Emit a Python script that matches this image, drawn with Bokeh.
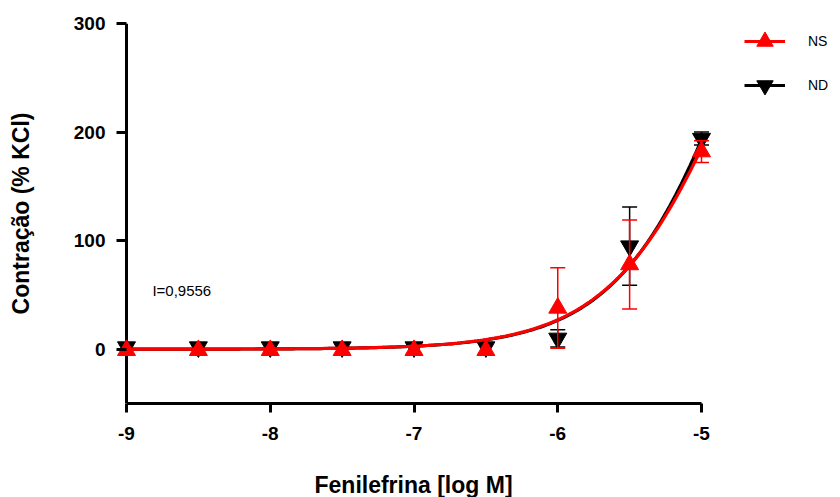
import numpy as np
from bokeh.plotting import figure
from bokeh.models import (Range1d, FixedTicker, Legend, LegendItem, Label, Span,
                          Title)
from bokeh.embed import file_html
from bokeh.resources import INLINE

# ---- data ----
log_conc = [-9.0, -8.5, -8.0, -7.5, -7.0, -6.5, -6.0, -5.5, -5.0]
ns_mean = [-1.0, -1.0, -1.0, -1.0, -1.0, -1.0, 38.0, 78.0, 182.0]
ns_sem = [0.0, 0.0, 0.0, 0.0, 0.0, 0.0, 37.0, 41.0, 10.0]
nd_mean = [2.0, 2.0, 2.0, 2.0, 2.0, 2.0, 10.0, 95.0, 194.0]
nd_sem = [0.0, 0.0, 0.0, 0.0, 0.0, 0.0, 8.0, 36.0, 6.0]

# fitted dose-response parameters (bottom, top, logEC50, hill slope)
ns_fit = [0.0, 525.0, -4.736, 1.0]
nd_fit = [0.0, 636.0, -4.639, 1.0]

x_ticks = [-9, -8, -7, -6, -5]
x_tick_labels = ["-9", "-8", "-7", "-6", "-5"]
y_ticks = [0, 100, 200, 300]
y_tick_labels = ["0", "100", "200", "300"]
series_names = ["NS", "ND"]
x_title = "Fenilefrina [log M]"
y_title = "Contração (% KCl)"
note_text = "I=0,9556"

FONT = "Liberation Sans"

# ---- layout geometry ----
W, H = 840, 497
LEFT, TOP, BOTTOM = 116, 23, 91
px_per_unit = 143.75
x0 = -9 - (126 - LEFT) / px_per_unit
x1 = x0 + (W - LEFT) / px_per_unit

p = figure(width=W, height=H, output_backend="svg", toolbar_location=None,
           x_range=Range1d(x0, x1), y_range=Range1d(-50, 300),
           min_border_left=LEFT, min_border_right=0,
           min_border_top=TOP, min_border_bottom=BOTTOM)
p.outline_line_color = None
p.grid.visible = False
p.background_fill_color = "white"
p.border_fill_color = "white"

# vertical axis line at x = -9 (under the markers)
p.add_layout(Span(location=x_ticks[0], dimension="height", line_color="black",
                  line_width=3, level="underlay"))


def hill(fit, xs):
    b, t, c, h = fit
    return b + (t - b) / (1.0 + 10 ** ((c - xs) * h))


xs = np.linspace(-9, -5, 201)


def draw(mean, sem, fit, color, marker):
    line = p.line(xs, hill(fit, xs), line_color=color, line_width=3.2)
    idx = [i for i, s in enumerate(sem) if s > 0]
    ex = [log_conc[i] for i in idx]
    lo = [mean[i] - sem[i] for i in idx]
    hi = [mean[i] + sem[i] for i in idx]
    p.segment(ex, lo, ex, hi, line_color=color, line_width=1.5)
    p.scatter(ex + ex, lo + hi, marker="dash", size=15, line_color=color,
              line_width=1.5)
    pts = p.scatter(log_conc, mean, marker=marker, size=18, fill_color=color,
                    line_color=color)
    return line, pts


nd_line, nd_pts = draw(nd_mean, nd_sem, nd_fit, "black", "inverted_triangle")
ns_line, ns_pts = draw(ns_mean, ns_sem, ns_fit, "#ff0000", "triangle")

# ---- axes ----
for ax in (p.xaxis[0], p.yaxis[0]):
    ax.axis_line_width = 3
    ax.axis_line_color = "black"
    ax.major_tick_line_width = 3
    ax.major_tick_line_color = "black"
    ax.minor_tick_line_color = None
    ax.major_label_text_font = FONT
    ax.major_label_text_font_style = "bold"
    ax.major_label_text_font_size = "19px"
    ax.major_label_text_color = "black"
    ax.axis_label_text_font = FONT
    ax.axis_label_text_font_style = "bold"
    ax.axis_label_text_font_size = "23px"
    ax.axis_label_text_color = "black"

p.xaxis.ticker = FixedTicker(ticks=x_ticks)
p.xaxis.major_label_overrides = dict(zip(x_ticks, x_tick_labels))
p.xaxis.bounds = (x_ticks[0], x_ticks[-1])
p.xaxis.major_tick_out = 9
p.xaxis.major_tick_in = 0
p.xaxis.major_label_standoff = 14
# a blank, tiny axis label only reserves vertical room above the title
p.xaxis.axis_label = " "
p.xaxis.axis_label_text_font_size = "1px"
p.xaxis.axis_label_standoff = 23

# x-axis title, centred under the -9..-5 span of the axis
p.add_layout(Title(text=x_title, align="left", offset=198, standoff=0,
                   text_font=FONT, text_font_style="bold",
                   text_font_size="23px", text_color="black"), "below")

# y axis sits at the frame edge; its ticks reach in to the line at x = -9
p.yaxis.ticker = FixedTicker(ticks=y_ticks)
p.yaxis.major_label_overrides = dict(zip(y_ticks, y_tick_labels))
p.yaxis.axis_line_color = None
p.yaxis.major_tick_in = 10
p.yaxis.major_tick_out = 0
p.yaxis.major_label_standoff = 11
p.yaxis.axis_label = y_title
p.yaxis.axis_label_standoff = 37

# ---- annotation ----
p.add_layout(Label(x=-8.82, y=54, text=note_text, text_font=FONT,
                   text_font_size="15px", text_baseline="middle",
                   text_align="left", text_color="black"))

# ---- legend ----
legend = Legend(items=[LegendItem(label=series_names[0], renderers=[ns_line, ns_pts]),
                       LegendItem(label=series_names[1], renderers=[nd_line, nd_pts])],
                location=(744 - LEFT, 297), orientation="vertical",
                glyph_width=41, glyph_height=42, spacing=2, padding=0, margin=0,
                label_standoff=23, label_text_font=FONT,
                label_text_font_size="14px", label_text_color="black",
                border_line_alpha=0, background_fill_alpha=0)
p.add_layout(legend)

open("out.html", "w").write(file_html(p, INLINE))
